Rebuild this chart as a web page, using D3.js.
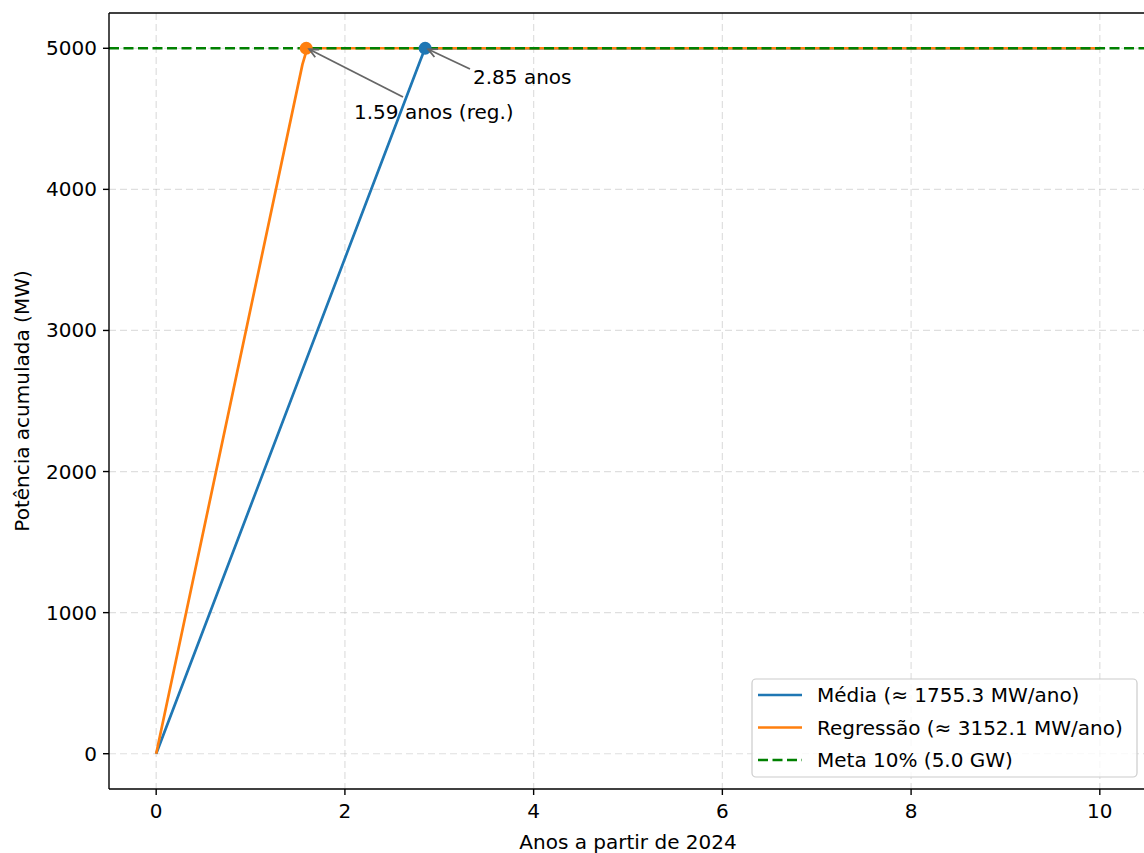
<!DOCTYPE html>
<html><head><meta charset="utf-8">
<script src="https://cdn.jsdelivr.net/npm/d3@7"></script>
<style>body{margin:0;background:#fff}svg{display:block}text{font-family:"DejaVu Sans",sans-serif}</style>
</head><body><svg id="c" width="1144" height="853"></svg>
<script>
const xTicks = [0, 2, 4, 6, 8, 10];
const yTicks = [0, 1000, 2000, 3000, 4000, 5000];
const mediaYears = [0, 2.8, 2.85, 10];
const mediaValues = [0, 4915, 5000, 5000];
const regYears = [0, 1.55, 1.6, 10];
const regValues = [0, 4886, 5000, 5000];
const meta = 5000;
const hitMedia = 2.85, hitReg = 1.59;
const legendLabels = ["Média (≈ 1755.3 MW/ano)", "Regressão (≈ 3152.1 MW/ano)", "Meta 10% (5.0 GW)"];
const colors = ["#1f77b4", "#ff7f0e", "#008000"];

const FS = 20;
const svg = d3.select("#c");
const L = 109, R = 1147, T = 13, B = 789;
const x = d3.scaleLinear().domain([-0.5, 10.5]).range([L, R]);
const y = d3.scaleLinear().domain([-250, 5250]).range([B, T]);

svg.append("defs").append("clipPath").attr("id","clip").append("rect")
  .attr("x",L).attr("y",T).attr("width",R-L).attr("height",B-T);

// grid
const g = svg.append("g");
g.selectAll(".gx").data(xTicks).join("line").attr("x1",d=>x(d)).attr("x2",d=>x(d)).attr("y1",T).attr("y2",B)
  .attr("stroke","#b0b0b0").attr("stroke-opacity",0.4).attr("stroke-dasharray","7,4").attr("stroke-width",1.2);
g.selectAll(".gy").data(yTicks).join("line").attr("y1",d=>y(d)).attr("y2",d=>y(d)).attr("x1",L).attr("x2",R)
  .attr("stroke","#b0b0b0").attr("stroke-opacity",0.4).attr("stroke-dasharray","7,4").attr("stroke-width",1.2);

const plot = svg.append("g").attr("clip-path","url(#clip)");
const line = d3.line().x(d=>x(d[0])).y(d=>y(d[1]));
plot.append("path").datum(d3.zip(mediaYears, mediaValues)).attr("d",line).attr("fill","none")
  .attr("stroke",colors[0]).attr("stroke-width",2.7).attr("stroke-linejoin","round");
plot.append("path").datum(d3.zip(regYears, regValues)).attr("d",line).attr("fill","none")
  .attr("stroke",colors[1]).attr("stroke-width",2.7).attr("stroke-linejoin","round");
plot.append("line").attr("x1",L).attr("x2",R).attr("y1",y(meta)).attr("y2",y(meta))
  .attr("stroke",colors[2]).attr("stroke-width",2.7).attr("stroke-dasharray","10,4.5");
plot.append("circle").attr("cx",x(hitReg)).attr("cy",y(meta)).attr("r",6.5).attr("fill",colors[1]);
plot.append("circle").attr("cx",x(hitMedia)).attr("cy",y(meta)).attr("r",6.5).attr("fill",colors[0]);

// annotations
function arrow(x1,y1,x2,y2){
  const a = Math.atan2(y2-y1,x2-x1), h=10, w=0.45;
  svg.append("line").attr("x1",x1).attr("y1",y1).attr("x2",x2).attr("y2",y2).attr("stroke","#666").attr("stroke-width",1.8);
  svg.append("path").attr("d",`M${x2-h*Math.cos(a-w)},${y2-h*Math.sin(a-w)}L${x2},${y2}L${x2-h*Math.cos(a+w)},${y2-h*Math.sin(a+w)}`)
    .attr("fill","none").attr("stroke","#666").attr("stroke-width",1.8);
}
arrow(470, 69, x(hitMedia)+3, y(meta)+1);
arrow(403, 97, x(hitReg)+3, y(meta)+1);
svg.append("text").attr("x",473).attr("y",84).attr("font-size",FS).attr("fill","#000").text(hitMedia.toFixed(2)+" anos");
svg.append("text").attr("x",354).attr("y",119).attr("font-size",FS).attr("fill","#000").text(hitReg.toFixed(2)+" anos (reg.)");

// axes
svg.append("line").attr("x1",L).attr("x2",L).attr("y1",T).attr("y2",B).attr("stroke","#000").attr("stroke-width",1.4);
svg.append("line").attr("x1",L).attr("x2",R).attr("y1",B).attr("y2",B).attr("stroke","#000").attr("stroke-width",1.4);
svg.append("line").attr("x1",L).attr("x2",R).attr("y1",T).attr("y2",T).attr("stroke","#000").attr("stroke-width",1.4);
const xa = svg.append("g");
xTicks.forEach(t=>{
  xa.append("line").attr("x1",x(t)).attr("x2",x(t)).attr("y1",B).attr("y2",B+6).attr("stroke","#000").attr("stroke-width",1.4);
  xa.append("text").attr("x",x(t)).attr("y",B+29).attr("text-anchor","middle").attr("font-size",FS).text(t);
});
yTicks.forEach(t=>{
  xa.append("line").attr("x1",L-6).attr("x2",L).attr("y1",y(t)).attr("y2",y(t)).attr("stroke","#000").attr("stroke-width",1.4);
  xa.append("text").attr("x",L-12).attr("y",y(t)+7).attr("text-anchor","end").attr("font-size",FS).text(t);
});
svg.append("text").attr("x",628).attr("y",849).attr("text-anchor","middle").attr("font-size",FS).text("Anos a partir de 2024");
svg.append("text").attr("transform","translate(29,401) rotate(-90)").attr("text-anchor","middle").attr("font-size",FS).text("Potência acumulada (MW)");

// legend
const lg = svg.append("g");
lg.append("rect").attr("x",752).attr("y",679).attr("width",385).attr("height",98).attr("rx",4)
  .attr("fill","#fff").attr("fill-opacity",0.8).attr("stroke","#ccc").attr("stroke-width",1.2);
legendLabels.forEach((lab,i)=>{
  const yy = 695 + i*32.5;
  lg.append("line").attr("x1",758).attr("x2",802).attr("y1",yy).attr("y2",yy).attr("stroke",colors[i]).attr("stroke-width",2.7)
    .attr("stroke-dasharray", i==2 ? "10,4.5" : null);
  lg.append("text").attr("x",817).attr("y",yy+7).attr("font-size",FS).text(lab);
});
</script></body></html>
